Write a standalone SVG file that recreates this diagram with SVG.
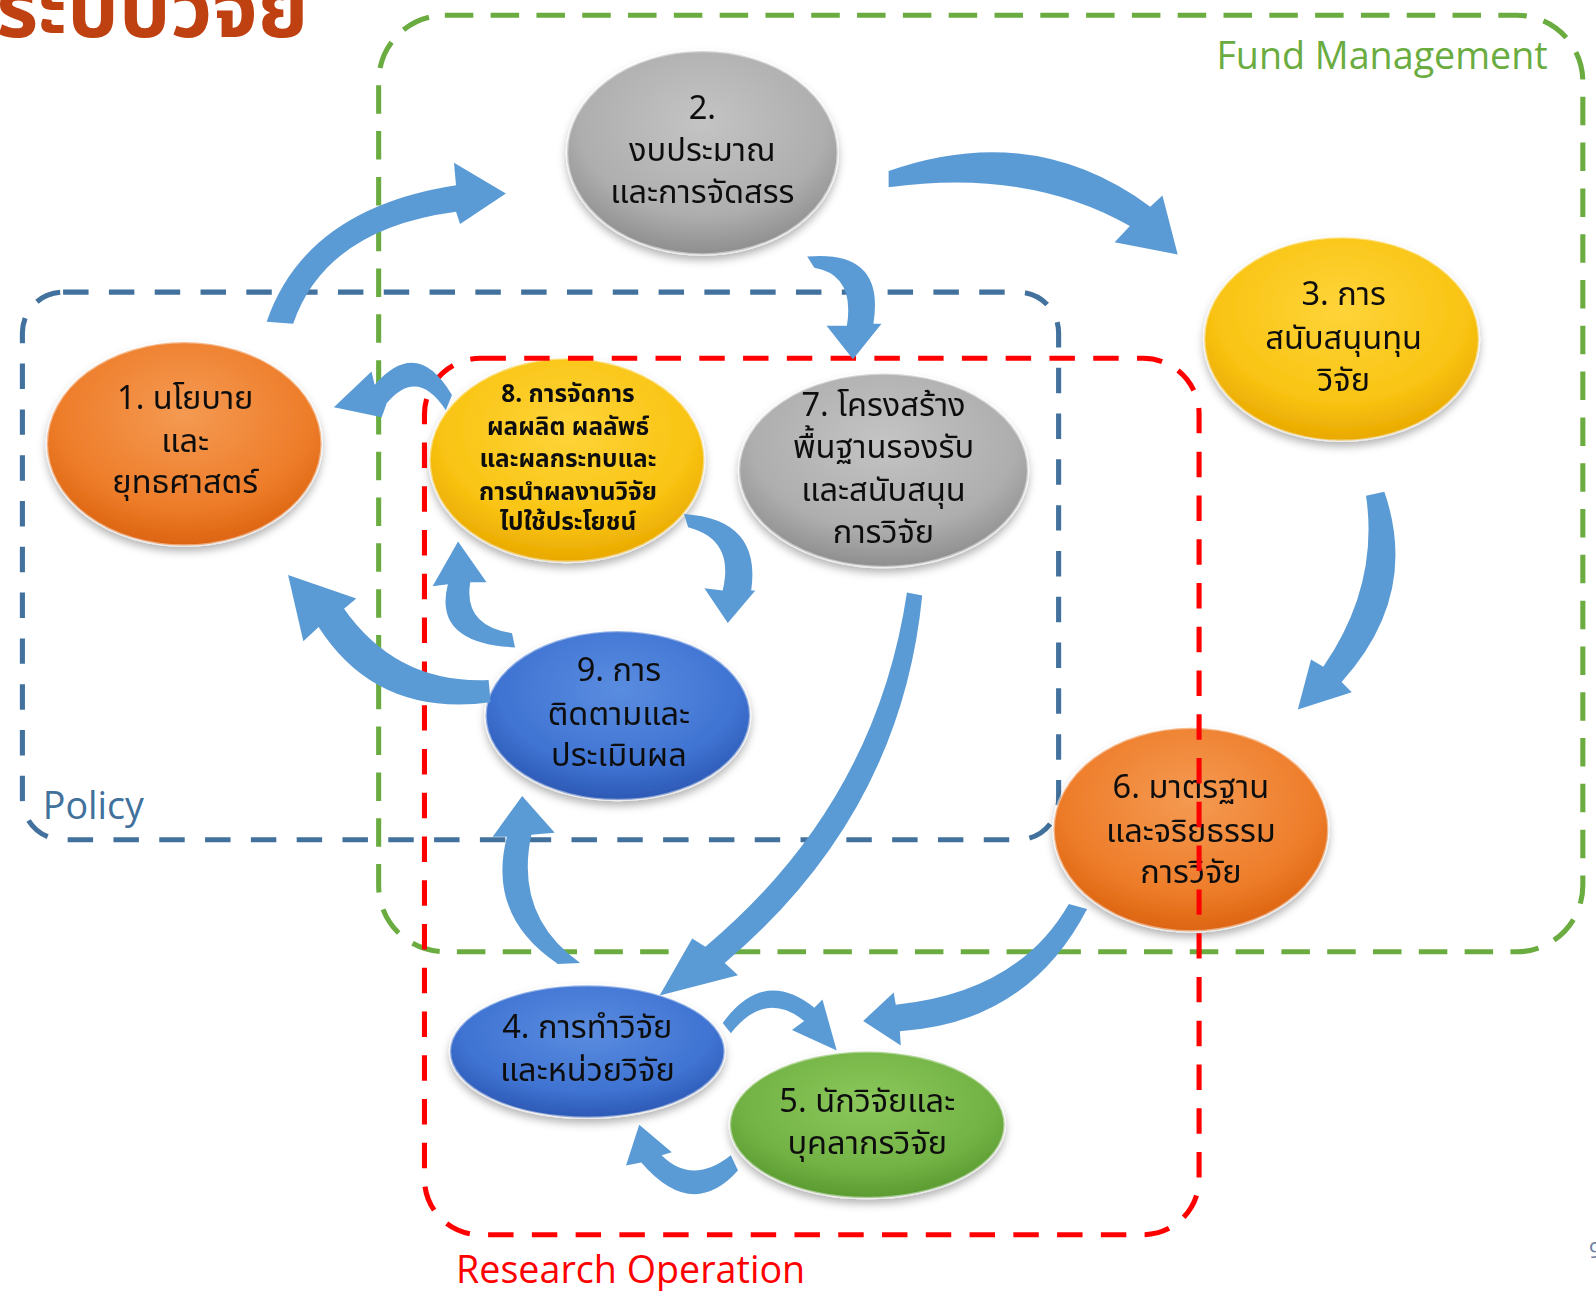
<svg xmlns="http://www.w3.org/2000/svg" width="1596" height="1291" viewBox="0 0 1596 1291">
<style>
.frame{fill:none;stroke-width:5;stroke-linecap:butt}
.t{font-family:"Noto Sans Thai","Noto Sans","DejaVu Sans",sans-serif;text-anchor:middle;fill:#111;font-size:32px}
.s{font-size:24px;font-weight:bold}
.lbl{font-family:"Open Sans","Noto Sans",sans-serif;font-size:37px}
.arr{fill:#5b9bd5}
.edge{stroke:#ffffff;stroke-opacity:0.45;stroke-width:2.5}
</style>
<defs>
<radialGradient id="gOr" cx="0.5" cy="0.35" r="0.65"><stop offset="0" stop-color="#f49a52"/><stop offset="0.7" stop-color="#ee7d2a"/><stop offset="1" stop-color="#dc6410"/></radialGradient>
<radialGradient id="gGr" cx="0.5" cy="0.35" r="0.65"><stop offset="0" stop-color="#c4c4c4"/><stop offset="0.7" stop-color="#aeaeae"/><stop offset="1" stop-color="#8e8e8e"/></radialGradient>
<radialGradient id="gYe" cx="0.5" cy="0.35" r="0.65"><stop offset="0" stop-color="#ffd43a"/><stop offset="0.7" stop-color="#f9c413"/><stop offset="1" stop-color="#e9a800"/></radialGradient>
<radialGradient id="gBl" cx="0.5" cy="0.35" r="0.65"><stop offset="0" stop-color="#5a8de0"/><stop offset="0.7" stop-color="#3f73d2"/><stop offset="1" stop-color="#2c58b4"/></radialGradient>
<radialGradient id="gGn" cx="0.5" cy="0.35" r="0.65"><stop offset="0" stop-color="#8cc85c"/><stop offset="0.7" stop-color="#72b244"/><stop offset="1" stop-color="#5a9a30"/></radialGradient>
<filter id="sh" x="-20%" y="-20%" width="140%" height="150%"><feDropShadow dx="0" dy="5" stdDeviation="4" flood-color="#000" flood-opacity="0.3"/></filter>
</defs>
<g transform="scale(1.0179)">
<text x="-4" y="36" font-family="'Noto Sans Thai','Noto Sans',sans-serif" font-size="80" font-weight="bold" fill="#bf4010">ระบบวิจัย</text>

<g id="frames">
<rect id="fund" class="frame" x="372" y="15" width="1183" height="920" rx="65" stroke="#6aac40" stroke-dasharray="28 17"/>
<rect id="policy" class="frame" x="22" y="287" width="1018" height="538" rx="40" stroke="#41719c" stroke-dasharray="25 20"/>
</g>

<g id="n1" filter="url(#sh)"><ellipse cx="181" cy="436" rx="135" ry="100" fill="url(#gOr)" class="edge"/>
<text class="t"><tspan x="182" y="402">1. นโยบาย</tspan><tspan x="182" y="444">และ</tspan><tspan x="182" y="484">ยุทธศาสตร์</tspan></text></g>
<g id="n2" filter="url(#sh)"><ellipse cx="690" cy="150" rx="133" ry="100" fill="url(#gGr)" class="edge"/>
<text class="t"><tspan x="690" y="117">2.</tspan><tspan x="690" y="158">งบประมาณ</tspan><tspan x="690" y="199">และการจัดสรร</tspan></text></g>
<g id="n3" filter="url(#sh)"><ellipse cx="1318" cy="333" rx="135" ry="100" fill="url(#gYe)" class="edge"/>
<text class="t"><tspan x="1320" y="300">3. การ</tspan><tspan x="1320" y="343">สนับสนุนทุน</tspan><tspan x="1320" y="384">วิจัย</tspan></text></g>
<g id="n7" filter="url(#sh)"><ellipse cx="868" cy="462" rx="142" ry="95" fill="url(#gGr)" class="edge"/>
<text class="t"><tspan x="868" y="409">7. โครงสร้าง</tspan><tspan x="868" y="450">พื้นฐานรองรับ</tspan><tspan x="868" y="492">และสนับสนุน</tspan><tspan x="868" y="533">การวิจัย</tspan></text></g>
<g id="n8" filter="url(#sh)"><ellipse cx="557" cy="452" rx="135" ry="100" fill="url(#gYe)" class="edge"/>
<text class="t s"><tspan x="558" y="395">8. การจัดการ</tspan><tspan x="558" y="427">ผลผลิต ผลลัพธ์</tspan><tspan x="558" y="459">และผลกระทบและ</tspan><tspan x="558" y="491">การนำผลงานวิจัย</tspan><tspan x="558" y="521">ไปใช้ประโยชน์</tspan></text></g>
<g id="n9" filter="url(#sh)"><ellipse cx="607" cy="703" rx="130" ry="83" fill="url(#gBl)" class="edge"/>
<text class="t"><tspan x="608" y="669">9. การ</tspan><tspan x="608" y="712">ติดตามและ</tspan><tspan x="608" y="753">ประเมินผล</tspan></text></g>
<g id="n6" filter="url(#sh)"><ellipse cx="1170" cy="815" rx="135" ry="100" fill="url(#gOr)" class="edge"/>
<text class="t"><tspan x="1170" y="784">6. มาตรฐาน</tspan><tspan x="1170" y="827">และจริยธรรม</tspan><tspan x="1170" y="867">การวิจัย</tspan></text></g>
<g id="n4" filter="url(#sh)"><ellipse cx="577" cy="1033" rx="135" ry="65" fill="url(#gBl)" class="edge"/>
<text class="t"><tspan x="577" y="1020">4. การทำวิจัย</tspan><tspan x="577" y="1062">และหน่วยวิจัย</tspan></text></g>
<g id="n5" filter="url(#sh)"><ellipse cx="852" cy="1105" rx="135" ry="72" fill="url(#gGn)" class="edge"/>
<text class="t"><tspan x="852" y="1092">5. นักวิจัยและ</tspan><tspan x="852" y="1134">บุคลากรวิจัย</tspan></text></g>

<rect id="research" class="frame" x="417" y="352" width="761" height="861" rx="55" stroke="#ff0000" stroke-dasharray="25 18"/>

<g id="connectors">
<path class="arr" d="M262,316 Q300,205 448,182 L446,160 L497,190 L452,220 L448,208 Q320,225 288,318 Z"/>
<path class="arr" d="M873,168 Q1015,118 1130,203 L1142,192 L1157,250 L1095,238 L1110,222 Q1010,165 873,184 Z"/>
<path class="arr" d="M793,252 Q870,245 858,318 L866,318 L838,353 L812,320 L832,320 Q840,270 800,263 Z"/>
<path class="arr" d="M1342,487 Q1355,575 1300,655 L1288,648 L1275,697 L1328,680 L1318,670 Q1395,585 1360,483 Z"/>
<path class="arr" d="M1050,888 Q1000,975 880,987 L878,975 L848,1003 L885,1027 L884,1013 Q1010,1005 1068,893 Z"/>
<path class="arr" d="M710,1005 Q750,950 800,990 L808,982 L822,1032 L778,1012 L790,1003 Q752,972 718,1015 Z"/>
<path class="arr" d="M718,1135 Q680,1165 650,1135 L660,1132 L628,1105 L615,1145 L630,1142 Q680,1200 725,1150 Z"/>
<path class="arr" d="M891,582 Q860,790 693,930 L680,922 L648,978 L725,958 L712,946 Q885,800 906,585 Z"/>
<path class="arr" d="M570,946 Q505,900 522,820 L545,818 L513,782 L484,822 L498,822 Q478,900 548,947 Z"/>
<path class="arr" d="M480,668 Q390,672 338,598 L350,588 L283,565 L298,630 L313,616 Q370,705 482,690 Z"/>
<path class="arr" d="M503,622 Q455,615 462,572 L478,572 L450,532 L425,576 L440,574 Q425,632 506,636 Z"/>
<path class="arr" d="M672,505 Q748,510 738,580 L742,580 L715,612 L692,578 L710,580 Q722,530 676,518 Z"/>
<path class="arr" d="M444,388 Q410,330 368,378 L365,365 L328,400 L375,410 L380,396 Q410,360 438,403 Z"/>
</g>

<g id="labels">
<text class="lbl" x="1195" y="68" fill="#6aac40" font-size="35">Fund Management</text>
<text class="lbl" x="42" y="805" fill="#41719c" font-size="38">Policy</text>
<text class="lbl" x="448" y="1260" fill="#ff0000">Research Operation</text>
</g>
</g>
<text x="1589" y="1258" font-family="'Open Sans',sans-serif" font-size="22" fill="#6a7da0">9</text>
</svg>
